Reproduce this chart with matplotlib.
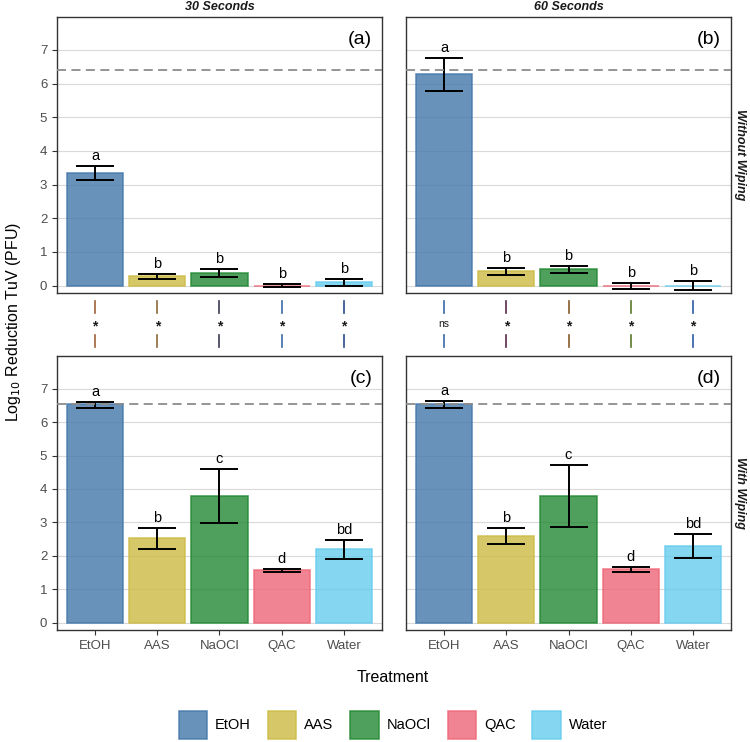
import numpy as np
import matplotlib
matplotlib.use("Agg")
import matplotlib.pyplot as plt
import matplotlib.transforms as mtransforms
from matplotlib.patches import Patch

plt.rcParams['font.family'] = ['Liberation Sans', 'DejaVu Sans']

# ---- data ----
treatments = ["EtOH", "AAS", "NaOCl", "QAC", "Water"]
fill_colors = ["#4477AA", "#CCBB44", "#228833", "#EE6677", "#66CCEE"]

# (a) 30 s, without wiping
mean_a = [3.35, 0.28, 0.38, 0.00, 0.10]
lo_a = [3.15, 0.19, 0.26, -0.04, 0.00]
hi_a = [3.54, 0.34, 0.49, 0.04, 0.19]
let_a = ["a", "b", "b", "b", "b"]

# (b) 60 s, without wiping
mean_b = [6.28, 0.42, 0.49, -0.02, 0.00]
lo_b = [5.78, 0.31, 0.37, -0.11, -0.13]
hi_b = [6.76, 0.52, 0.57, 0.07, 0.13]
let_b = ["a", "b", "b", "b", "b"]

# (c) 30 s, with wiping
mean_c = [6.53, 2.52, 3.79, 1.57, 2.19]
lo_c = [6.41, 2.20, 2.97, 1.52, 1.91]
hi_c = [6.61, 2.83, 4.61, 1.61, 2.46]
let_c = ["a", "b", "c", "d", "bd"]

# (d) 60 s, with wiping
mean_d = [6.53, 2.60, 3.79, 1.61, 2.28]
lo_d = [6.41, 2.36, 2.87, 1.51, 1.93]
hi_d = [6.62, 2.83, 4.71, 1.67, 2.64]
let_d = ["a", "b", "c", "d", "bd"]

limit_top = 6.42      # detection limit, without wiping
limit_bottom = 6.53   # detection limit, with wiping

signif_30 = ["*", "*", "*", "*", "*"]
signif_60 = ["ns", "*", "*", "*", "*"]
conn_col_30 = ["#a0623a", "#8a6a3a", "#3a3a55", "#3a6aa5", "#2a4a8a"]
conn_col_60 = ["#3a6aa5", "#5a2a4a", "#8a5a2a", "#5a7a2a", "#2a5aa5"]

# ---- figure ----
W, H = 750, 742
fig = plt.figure(figsize=(W / 100, H / 100), dpi=100)


def rect(l, t, r, b):
    return [l / W, 1 - b / H, (r - l) / W, (b - t) / H]


axes = {
    "a": fig.add_axes(rect(57, 17, 382, 293)),
    "b": fig.add_axes(rect(406, 17, 731, 293)),
    "c": fig.add_axes(rect(57, 356, 382, 630)),
    "d": fig.add_axes(rect(406, 356, 731, 630)),
}
panel_data = {
    "a": (mean_a, lo_a, hi_a, let_a, limit_top),
    "b": (mean_b, lo_b, hi_b, let_b, limit_top),
    "c": (mean_c, lo_c, hi_c, let_c, limit_bottom),
    "d": (mean_d, lo_d, hi_d, let_d, limit_bottom),
}

x = np.arange(len(treatments))
for key, ax in axes.items():
    mean, lo, hi, lets, lim = panel_data[key]
    mean = np.array(mean); lo = np.array(lo); hi = np.array(hi)
    ax.set_axisbelow(True)
    ax.yaxis.grid(True, color="#d9d9d9", lw=0.8)
    ax.bar(x, mean, width=0.9, color=fill_colors, alpha=0.8,
           edgecolor=fill_colors, linewidth=1.2, zorder=2)
    ax.errorbar(x, mean, yerr=[mean - lo, hi - mean], fmt="none",
                ecolor="black", elinewidth=1.4, capsize=13.5, capthick=1.4, zorder=3)
    ax.axhline(lim, color="#8c8c8c", ls=(0, (5, 3)), lw=1.3, zorder=4)
    for xi, h, t in zip(x, hi, lets):
        ax.text(xi, h + 0.3, t, ha="center", va="center", fontsize=10.5, color="black")
    ax.text(0.97, 0.95, "(" + key + ")", transform=ax.transAxes, ha="right",
            va="top", fontsize=14)
    ax.set_xlim(-0.61, 4.61)
    ax.set_ylim(-0.22, 7.98)
    ax.set_yticks(range(8))
    for s in ax.spines.values():
        s.set_color("#333333")
        s.set_linewidth(1.0)
    ax.tick_params(colors="#333333", labelcolor="#4d4d4d", labelsize=9.5, length=3.5)
    ax.set_xticks(x)
    if key in ("a", "b"):
        ax.tick_params(axis="x", length=0, labelbottom=False)
    else:
        ax.set_xticklabels(treatments)
    if key in ("b", "d"):
        ax.tick_params(axis="y", length=0, labelleft=False)

# strip labels
strip_kw = dict(ha="center", va="center", fontsize=9, fontweight="bold",
                fontstyle="italic", color="#1a1a1a")
fig.text(220 / W, 1 - 7 / H, "30 Seconds", **strip_kw)
fig.text(569 / W, 1 - 7 / H, "60 Seconds", **strip_kw)
fig.text(740 / W, 1 - 155 / H, "Without Wiping", rotation=-90, **strip_kw)
fig.text(740 / W, 1 - 493 / H, "With Wiping", rotation=-90, **strip_kw)

# significance connectors between rows
for key, sig, cols in (("a", signif_30, conn_col_30), ("b", signif_60, conn_col_60)):
    ax = axes[key]
    trans = mtransforms.blended_transform_factory(ax.transData, fig.transFigure)
    for xi, s, c in zip(x, sig, cols):
        ax.plot([xi, xi], [1 - 301 / H, 1 - 313 / H], color=c, lw=1.2,
                transform=trans, clip_on=False)
        ax.plot([xi, xi], [1 - 335 / H, 1 - 347 / H], color=c, lw=1.2,
                transform=trans, clip_on=False)
        if s == "ns":
            ax.text(xi, 1 - 324 / H, s, transform=trans, ha="center", va="center",
                    fontsize=7.5, color="#1a1a1a")
        else:
            ax.text(xi, 1 - 326 / H, s, transform=trans, ha="center", va="center",
                    fontsize=10, fontweight="bold", color="#1a1a1a")

# axis titles
fig.text(14 / W, 1 - 322 / H, "Log$_{10}$ Reduction TuV (PFU)", rotation=90,
         ha="center", va="center", fontsize=11.5)
fig.text(393 / W, 1 - 678 / H, "Treatment", ha="center", va="center", fontsize=11.5)

# legend
handles = [Patch(facecolor=c, edgecolor=c, alpha=0.8, linewidth=1.2) for c in fill_colors]
fig.legend(handles, treatments, loc="center", bbox_to_anchor=(393 / W, 1 - 725 / H),
           ncol=5, frameon=False, fontsize=10.5, handlelength=1.95, handleheight=2.6,
           columnspacing=1.15, handletextpad=0.55)

fig.savefig("out.png", dpi=100)
